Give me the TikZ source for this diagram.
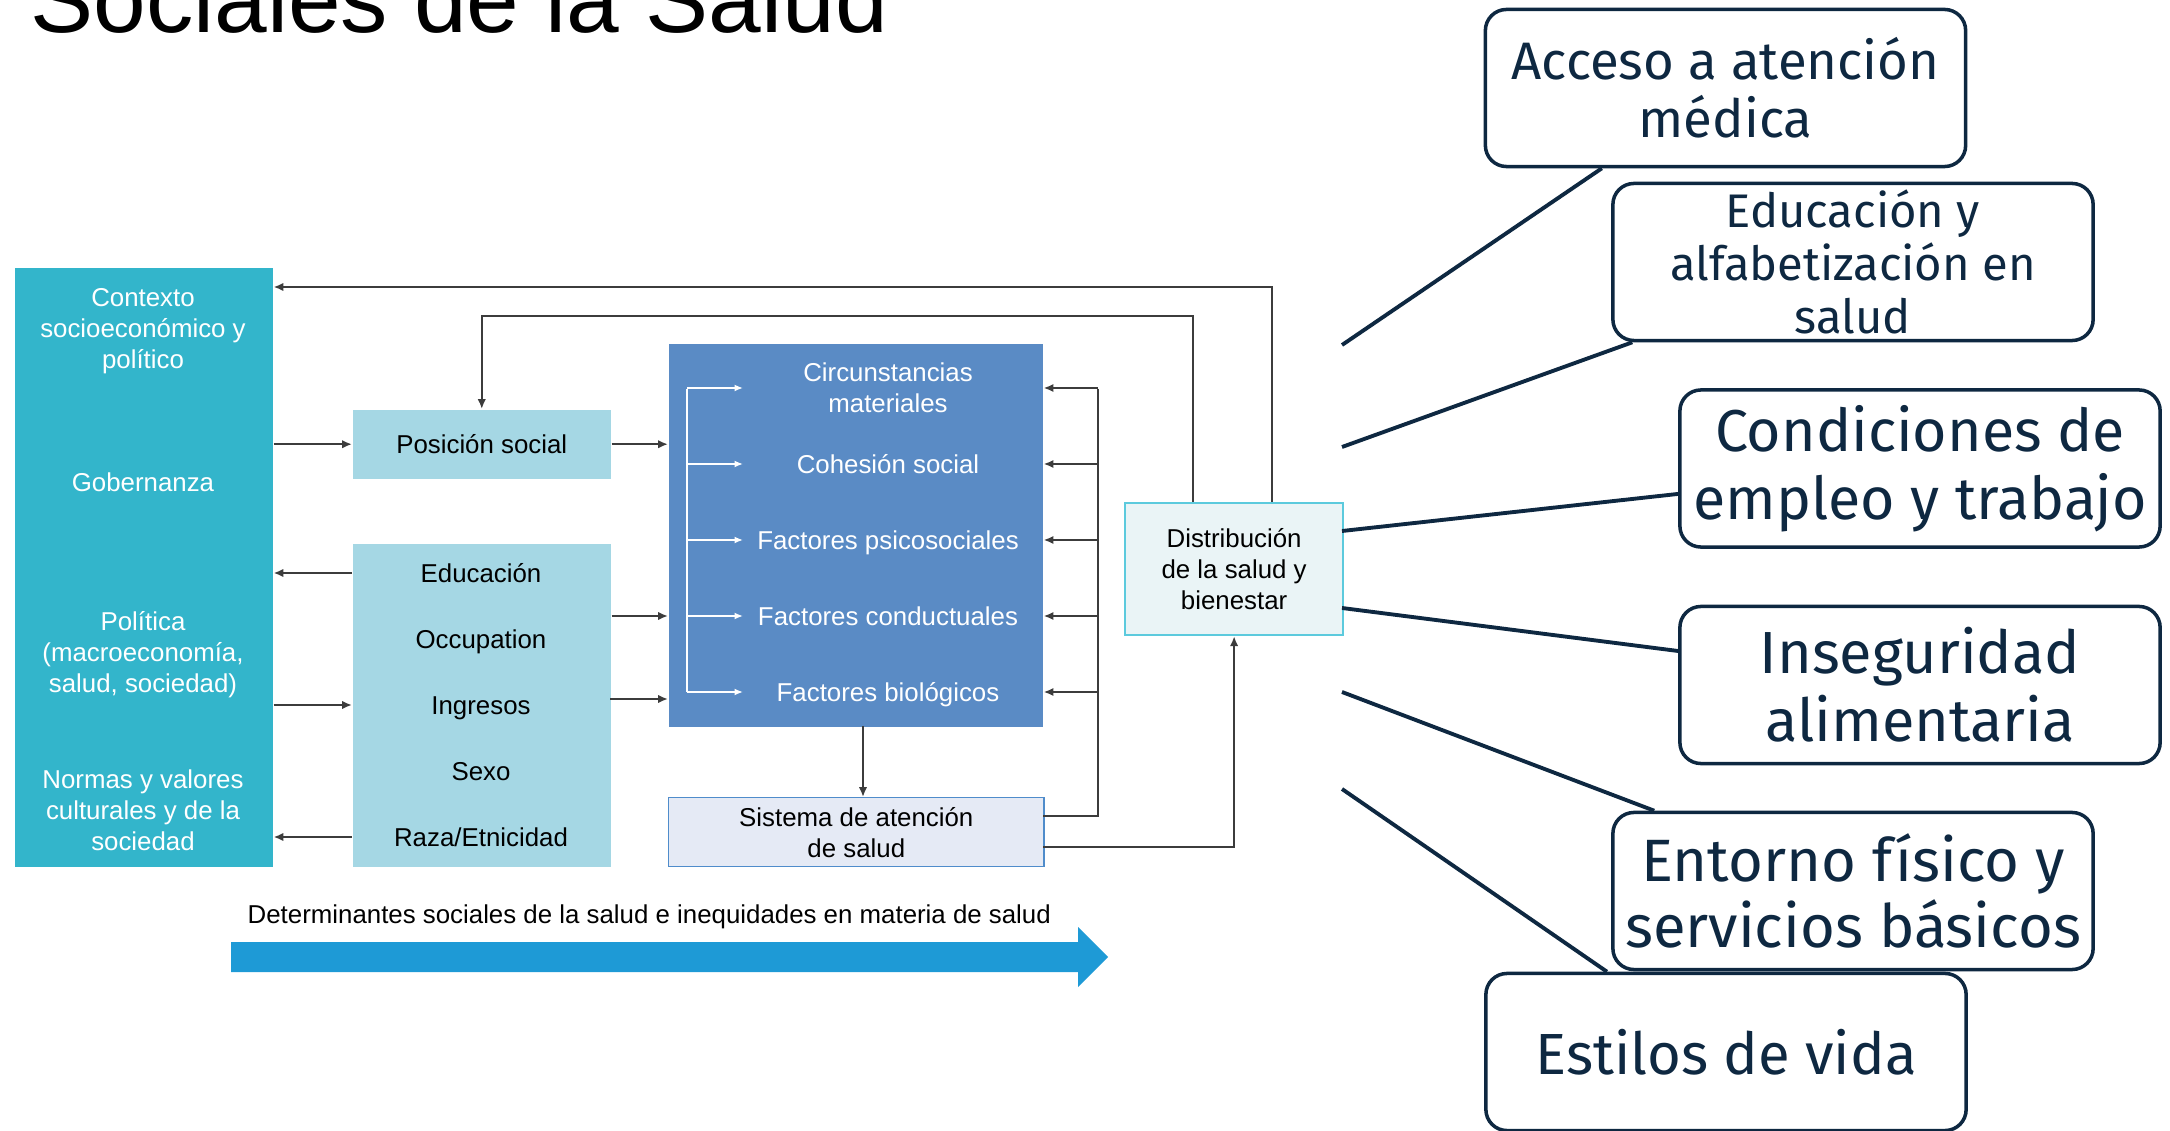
\documentclass[tikz,border=0pt]{standalone}
\usepackage{fontspec}
\setmainfont{Liberation Sans}
\newfontfamily\aptos{Fira Sans}
\usetikzlibrary{arrows.meta}
\definecolor{tealbg}{HTML}{33B5CB}
\definecolor{paleblue}{HTML}{A5D7E4}
\definecolor{midblue}{HTML}{5A8BC5}
\definecolor{sisfill}{HTML}{E5EAF5}
\definecolor{sisline}{HTML}{4F8CCB}
\definecolor{distfill}{HTML}{EAF4F6}
\definecolor{distline}{HTML}{5CCADD}
\definecolor{arrowblue}{HTML}{1E9AD6}
\definecolor{navy}{HTML}{0E2841}
\definecolor{lnk}{HTML}{3C3C3C}
\def\smallfont{\fontsize{7.35pt}{8.8pt}\selectfont}
\def\bigarrow{(231,942) -- (1078,942) -- (1078,927) -- (1108,957) -- (1078,987) -- (1078,972) -- (231,972) -- cycle}

\begin{document}
\begin{tikzpicture}[x=0.01cm, y=-0.01cm,
	box/.style={anchor=north west, inner sep=0pt, align=center, font=\smallfont},
	txt/.style={inner sep=0pt, align=center, font=\smallfont},
	line1/.style={txt, text height=0.72em, text depth=0.2em},
	wtxt/.style={txt, text=white},
	wline1/.style={line1, text=white},
	arr/.style={draw=lnk, line width=0.6pt, -{Latex[length=2.8pt,width=2.4pt]}},
	warr/.style={draw=white, line width=0.5pt, -{Latex[length=2.4pt,width=2pt]}},
	topic/.style={draw=navy, line width=1pt, rounded corners=6pt, text=navy, align=center, minimum width=4.8cm, minimum height=1.57cm, inner sep=0pt},
	spoke/.style={draw=navy, line width=1.1pt}]
		\useasboundingbox (0,0) rectangle (2170,1131);
		\node[anchor=base west, inner sep=0pt, font=\fontsize{26.9pt}{30pt}\selectfont] (title) at (30,33) {Sociales de la Salud};

		\node[box, fill=tealbg, minimum width=2.58cm, minimum height=5.99cm] (ctx) at (14,267) {};
		\node[box, fill=paleblue, minimum width=2.58cm, minimum height=0.69cm] (pos) at (352,409) {Posición social};
		\node[box, fill=paleblue, minimum width=2.58cm, minimum height=3.23cm] (edu) at (352,543) {};
		\node[box, fill=midblue, minimum width=3.74cm, minimum height=3.83cm] (fac) at (668,343) {};
		\node[box, fill=sisfill, draw=sisline, line width=0.4pt, minimum width=3.75cm, minimum height=0.69cm] (sis) at (668,797) {Sistema de atención\\de salud};
		\node[box, fill=distfill, draw=distline, line width=0.6pt, minimum width=2.18cm, minimum height=1.32cm] (dist) at (1124,502) {Distribución\\de la salud y\\bienestar};

		\node[wtxt] (tctx) at (143,331) {Contexto\\socioeconómico y\\político};
		\node[wline1] (tgob) at (143,482) {Gobernanza};
		\node[wtxt] (tpol) at (143,655) {Política\\(macroeconomía,\\salud, sociedad)};
		\node[wtxt] (tnor) at (143,810) {Normas y valores\\culturales y de la\\sociedad};

		\node[line1] (tedu) at (481,573) {Educación};
		\node[line1] (tocc) at (481,639) {Occupation};
		\node[line1] (ting) at (481,705) {Ingresos};
		\node[line1] (tsex) at (481,771) {Sexo};
		\node[line1] (traz) at (481,837) {Raza/Etnicidad};

		\node[wtxt] (tcir) at (888,388) {Circunstancias\\materiales};
		\node[wline1] (tcoh) at (888,464) {Cohesión social};
		\node[wline1] (tpsi) at (888,540) {Factores psicosociales};
		\node[wline1] (tcon) at (888,616) {Factores conductuales};
		\node[wline1] (tbio) at (888,692) {Factores biológicos};

		\coordinate (wb) at (687,389);
		\draw[white, line width=0.5pt] (wb) -- (wb |- tbio);
		\foreach \t in {tcir,tcoh,tpsi,tcon,tbio}
			\draw[warr] (wb |- \t) -- ++(56,0);

		\draw[arr] (ctx.east |- pos.west) -- (pos.west);
		\draw[arr] (pos.east) -- (fac.west |- pos.east);
		\draw[arr] (edu.west |- tedu) -- (ctx.east |- tedu);
		\draw[arr] (ctx.east |- ting) -- (edu.west |- ting);
		\draw[arr] (edu.west |- traz) -- (ctx.east |- traz);
		\draw[arr] (edu.east |- tcon) -- (fac.west |- tcon);
		\coordinate (e2) at (610,699);
		\draw[arr] (e2) -- (fac.west |- e2);

		\coordinate (lp1) at (1272,287);
		\coordinate (lp2) at (1193,316);
		\draw[arr] (dist.north -| lp1) |- (ctx.east |- lp1);
		\draw[arr] (dist.north -| lp2) -- (lp2) -| (pos.north);

		\coordinate (fs) at (863,726);
		\draw[arr] (fs) -- (fs |- sis.north);
		\coordinate (s1) at (1043,816);
		\coordinate (s2) at (1043,847);
		\coordinate (bb) at (1098,389);
		\draw[draw=lnk, line width=0.6pt] (s1) -| (bb);
		\foreach \t in {tcir,tcoh,tpsi,tcon,tbio}
			\draw[arr] (bb |- \t) -- (fac.east |- \t);
		\draw[arr] (s2) -| (dist.south);

		\fill[arrowblue] \bigarrow;
		\node[anchor=base west, inner sep=0pt, font=\smallfont] (dlab) at (247,923) {Determinantes sociales de la salud e inequidades en materia de salud};

		\node[topic, font=\aptos\fontsize{15pt}{16.5pt}\selectfont] (acc) at (1725.5,88) {Acceso a atención\\médica};
		\node[topic, font=\aptos\fontsize{13.4pt}{15pt}\selectfont] (edv) at (1853,262) {Educación y\\alfabetización en\\salud};
		\node[topic, font=\aptos\fontsize{16.8pt}{19.3pt}\selectfont] (cond) at (1920,468.5) {Condiciones de\\empleo y trabajo};
		\node[topic, font=\aptos\fontsize{16.9pt}{19.3pt}\selectfont] (inse) at (1920,685) {Inseguridad\\alimentaria};
		\node[topic, font=\aptos\fontsize{17pt}{18.8pt}\selectfont] (ent) at (1853,891) {Entorno físico y\\servicios básicos};
		\node[topic, font=\aptos\fontsize{16.5pt}{18pt}\selectfont] (est) at (1726,1052) {Estilos de vida};

		\coordinate (r1) at (1342,345);
		\coordinate (r2) at (1342,447);
		\coordinate (r3) at (1342,531);
		\coordinate (r4) at (1342,608);
		\coordinate (r5) at (1342,692);
		\coordinate (r6) at (1342,789);
		\draw[spoke] (r1) -- (acc.213);
		\draw[spoke] (r2) -- (edv.200);
		\draw[spoke] (r3) -- (cond.186);
		\draw[spoke] (r4) -- (inse.172);
		\draw[spoke] (r5) -- (ent.158);
		\draw[spoke] (r6) -- (est.146);
\end{tikzpicture}
\end{document}
